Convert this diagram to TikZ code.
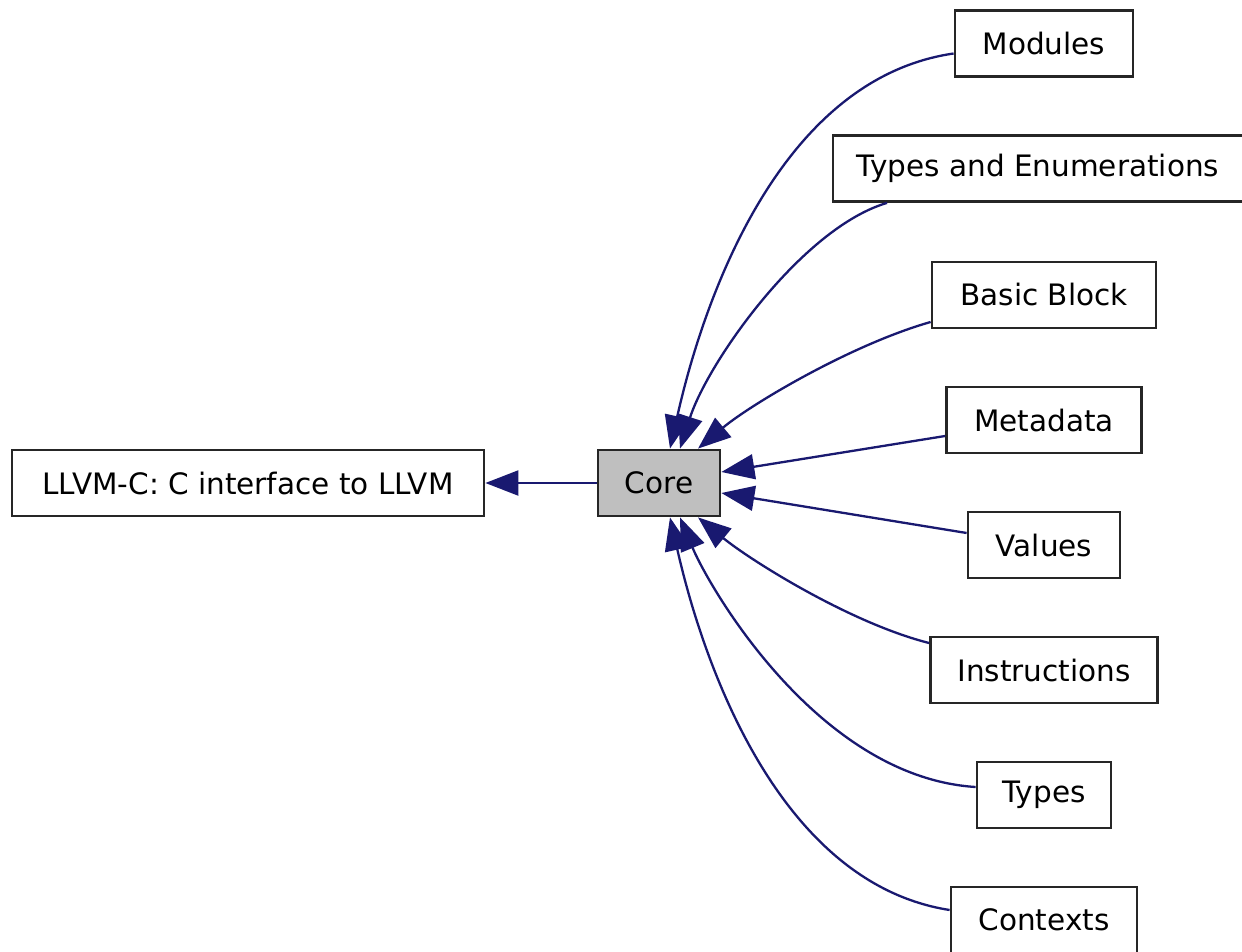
\documentclass[tikz,border=0pt]{standalone}
\usepackage{fontspec}
\setmainfont{DejaVu Sans}
\usetikzlibrary{arrows.meta}
\definecolor{edgeblue}{HTML}{191970}
\definecolor{coregray}{HTML}{BFBFBF}
\tikzset{
  box/.style={draw=black!85, line width=2.8pt, fill=white, inner sep=0pt, minimum height=66pt,
    font=\fontsize{29.5}{35}\selectfont},
  edge/.style={draw=edgeblue, line width=2.3pt, -{Triangle[length=33pt,width=25pt]}},
}
\begin{document}
\begin{tikzpicture}[x=1pt,y=-1pt]
\useasboundingbox[fill=white] (0,0) rectangle (1242,952);
\node[box, minimum width=472pt] (llvm) at (248,483) {LLVM-C: C interface to LLVM};
\node[box, fill=coregray, minimum width=122pt] (core) at (659,483) {Core};
\node[box, minimum width=178pt] (mod) at (1044,43.5) {Modules};
\node[box, minimum width=410pt] (te) at (1038,168.5) {Types and Enumerations};
\node[box, minimum width=224pt] (bb) at (1044,295) {Basic Block};
\node[box, minimum width=195pt] (md) at (1044,420) {Metadata};
\node[box, minimum width=152pt] (val) at (1044,545) {Values};
\node[box, minimum width=227pt] (ins) at (1044,670) {Instructions};
\node[box, minimum width=134pt] (ty) at (1044,795) {Types};
\node[box, minimum width=186pt] (ctx) at (1044,920) {Contexts};

\draw[edge] (core.west) -- (llvm.east);
\draw[edge] ([yshift=-10pt]mod.west) .. controls (757,82) and (690,360) .. ([xshift=11pt]core.north);
\draw[edge] ([xshift=-151pt]te.south) .. controls (802,228) and (708,362) .. ([xshift=21pt]core.north);
\draw[edge] ([yshift=-27pt]bb.west) .. controls (850,345) and (750,405) .. ([xshift=39pt]core.north);
\draw[edge] ([yshift=-16pt]md.west) -- ([yshift=11pt]core.east);
\draw[edge] ([yshift=12pt]val.west) -- ([yshift=-10pt]core.east);
\draw[edge] ([yshift=27pt]ins.west) .. controls (850,623) and (750,560) .. ([xshift=39pt]core.south);
\draw[edge] ([yshift=8pt]ty.west) .. controls (817,777) and (708,585) .. ([xshift=21pt]core.south);
\draw[edge] ([yshift=10pt]ctx.west) .. controls (757,880) and (690,605) .. ([xshift=11pt]core.south);
\end{tikzpicture}
\end{document}
